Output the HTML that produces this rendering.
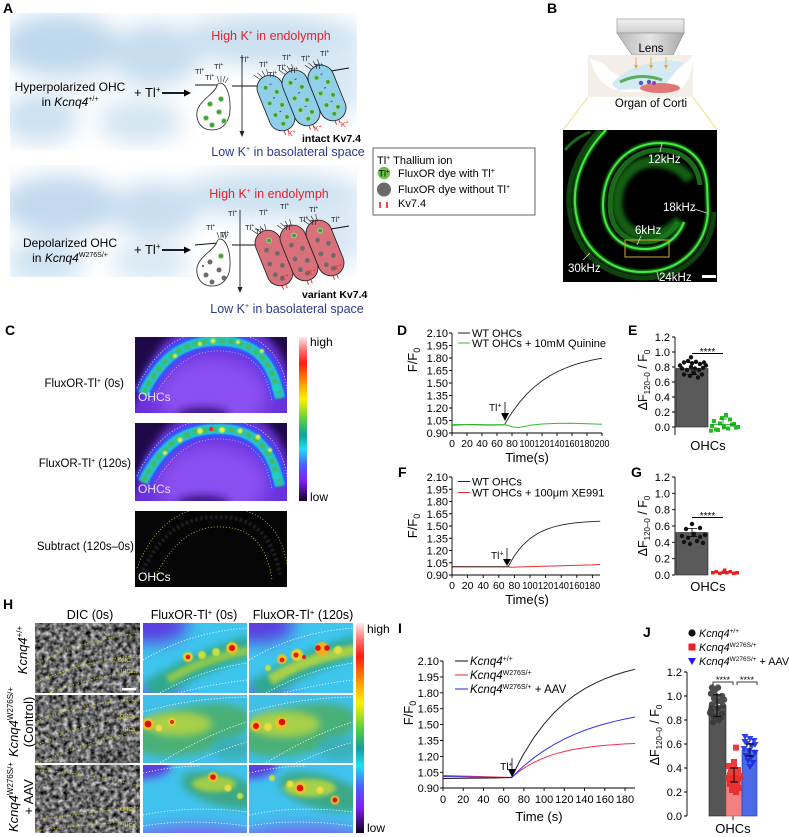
<!DOCTYPE html>
<html><head><meta charset="utf-8">
<style>
html,body{margin:0;padding:0;background:#fff;}
svg{display:block;}
text{font-family:"Liberation Sans",Arial,sans-serif;}
</style></head><body>
<svg width="789" height="837" viewBox="0 0 789 837" xmlns="http://www.w3.org/2000/svg">
<defs>
<filter id="b1" x="-50%" y="-50%" width="200%" height="200%"><feGaussianBlur stdDeviation="0.8"/></filter>
<filter id="b2" x="-50%" y="-50%" width="200%" height="200%"><feGaussianBlur stdDeviation="2"/></filter>
<filter id="b4" x="-50%" y="-50%" width="200%" height="200%"><feGaussianBlur stdDeviation="4"/></filter>
<filter id="b8" x="-50%" y="-50%" width="200%" height="200%"><feGaussianBlur stdDeviation="8"/></filter>
<filter id="b12" x="-50%" y="-50%" width="200%" height="200%"><feGaussianBlur stdDeviation="11"/></filter>
<filter id="noise" x="0" y="0" width="1" height="1" color-interpolation-filters="sRGB"><feTurbulence type="fractalNoise" baseFrequency="0.22" numOctaves="2" seed="4"/><feColorMatrix type="matrix" values="1.3 0 0 0 -0.23 1.3 0 0 0 -0.23 1.3 0 0 0 -0.23 0 0 0 0 1"/></filter>
<linearGradient id="cbar" x1="0" y1="0" x2="0" y2="1">
<stop offset="0" stop-color="#ffeaea"/><stop offset="0.08" stop-color="#ff7070"/><stop offset="0.16" stop-color="#ff1a10"/><stop offset="0.28" stop-color="#ff9a00"/><stop offset="0.38" stop-color="#fff000"/><stop offset="0.5" stop-color="#5ad040"/><stop offset="0.6" stop-color="#10a0a0"/><stop offset="0.68" stop-color="#20e0f0"/><stop offset="0.78" stop-color="#4a60ff"/><stop offset="0.88" stop-color="#8020f0"/><stop offset="1" stop-color="#100020"/>
</linearGradient>
<linearGradient id="lens1" x1="0" y1="0" x2="0" y2="1"><stop offset="0" stop-color="#f0f0f0"/><stop offset="1" stop-color="#cfcfcf"/></linearGradient>
<linearGradient id="lens2" x1="0" y1="0" x2="1" y2="0"><stop offset="0" stop-color="#b8b8b8"/><stop offset="0.5" stop-color="#e4e4e4"/><stop offset="1" stop-color="#a8a8a8"/></linearGradient>
<clipPath id="cA1"><rect x="10" y="13" width="347" height="137"/></clipPath>
<clipPath id="cA2"><rect x="10" y="165" width="347" height="112"/></clipPath>
<clipPath id="cB"><rect x="563" y="130" width="154" height="152"/></clipPath>
<clipPath id="cC1"><rect x="135" y="337" width="152" height="76"/></clipPath>
<clipPath id="cC2"><rect x="135" y="423" width="152" height="78"/></clipPath>
<clipPath id="cC3"><rect x="135" y="511" width="152" height="76"/></clipPath>
<clipPath id="h12"><rect x="143" y="623" width="104" height="70"/></clipPath>
<clipPath id="h13"><rect x="249" y="623" width="104" height="70"/></clipPath>
<clipPath id="h22"><rect x="143" y="695" width="104" height="68"/></clipPath>
<clipPath id="h23"><rect x="249" y="695" width="104" height="68"/></clipPath>
<clipPath id="h32"><rect x="143" y="765" width="104" height="68"/></clipPath>
<clipPath id="h33"><rect x="249" y="765" width="104" height="68"/></clipPath>

<g id="bcell">
<rect x="-13" y="-29" width="26" height="58" rx="13" fill="#8fcfe9" stroke="#1a1a1a" stroke-width="0.8"/>
<path d="M-6,-28 l-4,-6 M-3,-29 l-3,-6 M0,-29 l-1,-6 M3,-29 l1,-6" stroke="#222" stroke-width="0.6"/>
<g fill="#3f9f3a" stroke="#a8dc90" stroke-width="0.9">
<circle cx="-4" cy="-18" r="2.4"/><circle cx="5" cy="-10" r="2.4"/><circle cx="-6" cy="-2" r="2.4"/><circle cx="5" cy="4" r="2.4"/><circle cx="-5" cy="11" r="2.4"/><circle cx="5" cy="17" r="2.4"/><circle cx="-1" cy="22" r="2.4"/></g>
<g fill="#3a4a7a"><rect x="1" y="-20" width="2" height="1"/><rect x="-1" y="-6" width="2" height="1"/><rect x="0" y="9" width="2" height="1"/></g>
<path d="M-3,29 v4 M1,29 v4" stroke="#e02020" stroke-width="0.9"/>
</g>
<g id="rcell">
<rect x="-13" y="-29" width="26" height="58" rx="13" fill="#d8717b" stroke="#1a1a1a" stroke-width="0.8"/>
<path d="M-6,-28 l-4,-6 M-3,-29 l-3,-6 M0,-29 l-1,-6 M3,-29 l1,-6" stroke="#222" stroke-width="0.6"/>
<g fill="#6b6b6b"><circle cx="-4" cy="-10" r="2.4"/><circle cx="5" cy="-3" r="2.4"/><circle cx="-6" cy="4" r="2.4"/><circle cx="5" cy="10" r="2.4"/><circle cx="-5" cy="16" r="2.4"/><circle cx="0" cy="22" r="2.4"/></g>
<circle cx="2" cy="-18" r="2.4" fill="#3f9f3a" stroke="#a8dc90" stroke-width="0.9"/>
<path d="M-3,29 v4 M1,29 v4" stroke="#e02020" stroke-width="0.9"/>
</g>

<g id="cArc">
<rect x="130" y="330" width="165" height="90" fill="#1e0a48"/>
<path d="M128,420 L138,392 C158,330 190,322 215,322 C255,320 287,338 294,400 L294,420 Z" fill="#6a30dc" filter="url(#b4)"/>
<ellipse cx="213" cy="395" rx="55" ry="38" fill="#8a50f0" filter="url(#b8)"/>
<ellipse cx="203" cy="415" rx="26" ry="8" fill="#3c1688" filter="url(#b4)"/>
<path d="M143,394 C165,350 190,342 215,341 C245,340 270,350 280,398" fill="none" stroke="#3a50ff" stroke-width="18" filter="url(#b2)"/>
<path d="M143,394 C165,350 190,342 215,341 C245,340 270,350 280,398" fill="none" stroke="#1ec6d6" stroke-width="10" filter="url(#b1)"/>
<path d="M143,394 C165,350 190,342 215,341 C245,340 270,350 280,398" fill="none" stroke="#46b860" stroke-width="5" stroke-dasharray="6 3" filter="url(#b1)"/>
<path d="M137,388 C160,339 190,332 215,332 C252,331 283,345 288,396" fill="none" stroke="#e8d8a0" stroke-width="0.8" stroke-dasharray="1 2"/>
<path d="M152,402 C172,362 195,352 215,351 C245,350 266,362 272,402" fill="none" stroke="#f0a0e0" stroke-width="0.8" stroke-dasharray="1 2"/>
</g>
</defs>

<rect width="789" height="837" fill="#fff"/>

<!-- ============ PANEL A ============ -->
<text x="3" y="13" font-size="14" font-weight="bold">A</text>
<g clip-path="url(#cA1)">
<g filter="url(#b12)">
<ellipse cx="60" cy="45" rx="60" ry="32" fill="#bfd8ed"/>
<ellipse cx="155" cy="55" rx="45" ry="32" fill="#c6ddef"/>
<ellipse cx="40" cy="118" rx="38" ry="26" fill="#cce1f1"/>
<ellipse cx="140" cy="122" rx="42" ry="22" fill="#d3e5f2"/>
<ellipse cx="270" cy="40" rx="95" ry="26" fill="#cbe0f0"/>
<ellipse cx="335" cy="80" rx="30" ry="40" fill="#d8e8f4"/>
<ellipse cx="95" cy="85" rx="30" ry="14" fill="#f2f7fb"/>
</g>
</g>
<g clip-path="url(#cA2)">
<g filter="url(#b12)">
<ellipse cx="60" cy="205" rx="60" ry="30" fill="#c2d9ee"/>
<ellipse cx="155" cy="210" rx="45" ry="28" fill="#c9def0"/>
<ellipse cx="45" cy="262" rx="40" ry="22" fill="#cfe3f2"/>
<ellipse cx="150" cy="262" rx="40" ry="18" fill="#d6e7f3"/>
<ellipse cx="270" cy="195" rx="95" ry="24" fill="#cde2f1"/>
<ellipse cx="335" cy="235" rx="30" ry="35" fill="#dae8f4"/>
</g>
</g>

<!-- top row -->
<text x="70" y="91" font-size="12" text-anchor="middle">Hyperpolarized OHC</text>
<text x="70" y="106" font-size="12" text-anchor="middle">in <tspan font-style="italic">Kcnq4</tspan><tspan dy="-5" font-size="7">+/+</tspan></text>
<text x="134" y="97" font-size="13">+ Tl<tspan dy="-5" font-size="8">+</tspan></text>
<line x1="162" y1="93" x2="185" y2="93" stroke="#000" stroke-width="1.8"/>
<polygon points="184,89.5 191,93 184,96.5" fill="#000"/>
<text x="271" y="40" font-size="12.5" fill="#e62129" text-anchor="middle">High K<tspan dy="-5" font-size="7">+</tspan><tspan dy="5"> in endolymph</tspan></text>
<line x1="242" y1="55" x2="242" y2="132" stroke="#222" stroke-width="0.9"/>
<polygon points="239.5,131 244.5,131 242,137" fill="#222"/>
<path d="M195,85 L218,85 M232,86 L258,86 M325,72 L349,68" stroke="#111" stroke-width="1"/>
<path d="M220,83 C226,83 230,95 230,105 C231,120 224,130 212,130 C200,130 196,120 197,112 C198,102 212,95 216,88 C217,85 218,83 220,83 Z" fill="#fff" stroke="#222" stroke-width="0.8"/>
<path d="M219,82 l-2,-6 M221,82 l0,-6 M223,82 l2,-6 M225,83 l3,-5" stroke="#222" stroke-width="0.6"/>
<g fill="#3f9f3a" stroke="#a8dc90" stroke-width="0.9"><circle cx="210" cy="104" r="2.5"/><circle cx="221" cy="99" r="2.5"/><circle cx="206" cy="118" r="2.5"/><circle cx="219" cy="112" r="2.5"/><circle cx="212" cy="125" r="2.5"/><circle cx="224" cy="121" r="2.5"/></g>
<use href="#bcell" transform="translate(276,103) rotate(-22)"/>
<use href="#bcell" transform="translate(301,98) rotate(-22)"/>
<use href="#bcell" transform="translate(327,93) rotate(-22)"/>
<g font-size="7" fill="#e62129"><text x="288" y="136">K<tspan dy="-3" font-size="5">+</tspan></text><text x="314" y="131">K<tspan dy="-3" font-size="5">+</tspan></text><text x="341" y="127">K<tspan dy="-3" font-size="5">+</tspan></text></g>
<g font-size="7.5" fill="#222">
<text x="195" y="74">Tl<tspan dy="-3" font-size="5">+</tspan></text><text x="214" y="69">Tl<tspan dy="-3" font-size="5">+</tspan></text><text x="205" y="80">Tl<tspan dy="-3" font-size="5">+</tspan></text><text x="240" y="62">Tl<tspan dy="-3" font-size="5">+</tspan></text><text x="259" y="67">Tl<tspan dy="-3" font-size="5">+</tspan></text><text x="282" y="60">Tl<tspan dy="-3" font-size="5">+</tspan></text><text x="301" y="61">Tl<tspan dy="-3" font-size="5">+</tspan></text><text x="320" y="56">Tl<tspan dy="-3" font-size="5">+</tspan></text><text x="277" y="70">Tl<tspan dy="-3" font-size="5">+</tspan></text><text x="289" y="73">Tl<tspan dy="-3" font-size="5">+</tspan></text><text x="314" y="69">Tl<tspan dy="-3" font-size="5">+</tspan></text><text x="268" y="77">Tl<tspan dy="-3" font-size="5">+</tspan></text>
</g>
<text x="302" y="142" font-size="10.5" font-weight="bold">intact Kv7.4</text>
<text x="288" y="156" font-size="12.5" fill="#2b3990" text-anchor="middle">Low K<tspan dy="-5" font-size="7">+</tspan><tspan dy="5"> in basolateral space</tspan></text>

<!-- bottom row -->
<text x="70" y="247" font-size="12" text-anchor="middle">Depolarized OHC</text>
<text x="70" y="262" font-size="12" text-anchor="middle">in <tspan font-style="italic">Kcnq4</tspan><tspan dy="-5" font-size="7">W276S/+</tspan></text>
<text x="134" y="254" font-size="13">+ Tl<tspan dy="-5" font-size="8">+</tspan></text>
<line x1="162" y1="250" x2="185" y2="250" stroke="#000" stroke-width="1.8"/>
<polygon points="184,246.5 191,250 184,253.5" fill="#000"/>
<text x="269" y="198" font-size="12.5" fill="#e62129" text-anchor="middle">High K<tspan dy="-5" font-size="7">+</tspan><tspan dy="5"> in endolymph</tspan></text>
<line x1="240" y1="210" x2="240" y2="288" stroke="#222" stroke-width="0.9"/>
<polygon points="237.5,287 242.5,287 240,293" fill="#222"/>
<path d="M195,245 L218,243 M232,245 L258,245 M325,230 L349,226" stroke="#111" stroke-width="1"/>
<path d="M220,239 C226,239 230,251 230,261 C231,276 224,286 212,286 C200,286 196,276 197,268 C198,258 212,251 216,244 C217,241 218,239 220,239 Z" fill="#fff" stroke="#222" stroke-width="0.8"/>
<path d="M219,238 l-2,-6 M221,238 l0,-6 M223,238 l2,-6 M225,239 l3,-5" stroke="#222" stroke-width="0.6"/>
<g fill="#6b6b6b"><circle cx="210" cy="262" r="2.5"/><circle cx="206" cy="275" r="2.5"/><circle cx="219" cy="270" r="2.5"/><circle cx="212" cy="282" r="2.5"/><circle cx="224" cy="278" r="2.5"/><circle cx="203" cy="266" r="1.2"/></g>
<circle cx="221" cy="256" r="2.5" fill="#3f9f3a" stroke="#a8dc90" stroke-width="0.9"/>
<use href="#rcell" transform="translate(274,258) rotate(-22)"/>
<use href="#rcell" transform="translate(299,253) rotate(-22)"/>
<use href="#rcell" transform="translate(325,248) rotate(-22)"/>
<g font-size="7" fill="#e62129"><text x="281" y="280">K<tspan dy="-3" font-size="5">+</tspan></text><text x="308" y="275">K<tspan dy="-3" font-size="5">+</tspan></text><text x="334" y="270">K<tspan dy="-3" font-size="5">+</tspan></text></g>
<g font-size="7.5" fill="#222">
<text x="228" y="216">Tl<tspan dy="-3" font-size="5">+</tspan></text><text x="259" y="215">Tl<tspan dy="-3" font-size="5">+</tspan></text><text x="280" y="209">Tl<tspan dy="-3" font-size="5">+</tspan></text><text x="309" y="212">Tl<tspan dy="-3" font-size="5">+</tspan></text><text x="206" y="230">Tl<tspan dy="-3" font-size="5">+</tspan></text><text x="245" y="230">Tl<tspan dy="-3" font-size="5">+</tspan></text><text x="299" y="222">Tl<tspan dy="-3" font-size="5">+</tspan></text><text x="310" y="225">Tl<tspan dy="-3" font-size="5">+</tspan></text><text x="331" y="222">Tl<tspan dy="-3" font-size="5">+</tspan></text><text x="220" y="237">Tl<tspan dy="-3" font-size="5">+</tspan></text><text x="255" y="234">Tl<tspan dy="-3" font-size="5">+</tspan></text><text x="284" y="230">Tl<tspan dy="-3" font-size="5">+</tspan></text>
</g>
<text x="302" y="298" font-size="10.5" font-weight="bold">variant Kv7.4</text>
<text x="287" y="313" font-size="12.5" fill="#2b3990" text-anchor="middle">Low K<tspan dy="-5" font-size="7">+</tspan><tspan dy="5"> in basolateral space</tspan></text>

<!-- legend A -->
<rect x="373" y="148" width="162" height="67" fill="#fff" stroke="#555" stroke-width="0.9"/>
<text x="377" y="164" font-size="11">Tl<tspan dy="-4" font-size="7">+</tspan><tspan dy="4"> Thallium ion</tspan></text>
<circle cx="384" cy="173" r="6.2" fill="#6cc04a"/>
<text x="378.5" y="176.5" font-size="9">Tl<tspan dy="-3" font-size="6">+</tspan></text>
<text x="398" y="177" font-size="11">FluxOR dye with Tl<tspan dy="-4" font-size="7">+</tspan></text>
<circle cx="384" cy="189.5" r="7" fill="#6a6a6a"/>
<text x="398" y="193" font-size="11">FluxOR dye without Tl<tspan dy="-4" font-size="7">+</tspan></text>
<path d="M380,202 v6 M387,202 v6" stroke="#e02020" stroke-width="1.6"/>
<text x="398" y="207" font-size="11">Kv7.4</text>

<!-- ============ PANEL B ============ -->
<text x="547" y="13" font-size="14" font-weight="bold">B</text>
<rect x="617" y="19" width="67" height="14" fill="url(#lens1)" stroke="#9a9a9a" stroke-width="0.7"/>
<polygon points="617,33 684,33 673,55 632,55" fill="url(#lens2)" stroke="#9a9a9a" stroke-width="0.7"/>
<text x="651" y="52" font-size="11.5" text-anchor="middle">Lens</text>
<rect x="588" y="55" width="105" height="42" fill="#f4eee8"/>
<path d="M590,58 Q598,92 630,92 L675,92 Q690,86 693,60 L693,56 Q676,76 650,80 Q620,84 604,64 Z" fill="#fff"/>
<path d="M612,84 Q628,64 668,60 L684,62 Q672,76 662,88 L618,90 Z" fill="#d4eaf2"/>
<ellipse cx="660" cy="88" rx="20" ry="5" fill="#e07878"/>
<path d="M620,82 Q640,72 662,80" stroke="#5ab05a" stroke-width="3" fill="none"/>
<circle cx="641" cy="83" r="2.2" fill="#5555c0"/><circle cx="649" cy="82" r="2.2" fill="#5555c0"/><circle cx="654" cy="83" r="2" fill="#a040a0"/>
<g stroke="#f0a030" stroke-width="0.9"><line x1="636" y1="57" x2="636" y2="66"/><line x1="651" y1="57" x2="651" y2="66"/><line x1="666" y1="57" x2="666" y2="66"/></g>
<g fill="#f0a030"><polygon points="634,65 638,65 636,69"/><polygon points="649,65 653,65 651,69"/><polygon points="664,65 668,65 666,69"/></g>
<text x="651" y="107" font-size="11.5" text-anchor="middle">Organ of Corti</text>
<line x1="588" y1="97" x2="563" y2="130" stroke="#e8e070" stroke-width="0.9"/>
<line x1="693" y1="97" x2="717" y2="130" stroke="#e8e070" stroke-width="0.9"/>
<rect x="563" y="130" width="154" height="152" fill="#000"/>
<g clip-path="url(#cB)" fill="none">
<path d="M600,130 C580,150 567,178 569,205 C572,253 608,279 645,278 C686,277 713,248 714,212" stroke="#0e420e" stroke-width="5"/>
<path d="M690,180 C682,168 668,162 652,162 C630,163 617,182 617,203 C617,222 630,236 648,236 C662,236 672,229 680,220" stroke="#176a17" stroke-width="11" opacity="0.9" filter="url(#b2)"/>
<path d="M700,185 C698,165 684,150 660,150 C630,150 610,174 610,205 C610,228 624,242 645,242 C660,242 672,233 678,222" stroke="#1f7a1f" stroke-width="5" opacity="0.85"/>
<path d="M606,130 C586,150 573,178 575,205 C578,248 610,273 645,272 C682,271 706,245 708,212 L707,185 C705,160 688,143 660,143 C626,143 603,170 603,205 C603,232 620,249 645,249 C664,249 678,238 684,222" stroke="#1a9a1a" stroke-width="5" opacity="0.7" filter="url(#b1)"/>
<path d="M606,130 C586,150 573,178 575,205 C578,248 610,273 645,272 C682,271 706,245 708,212 L707,185 C705,160 688,143 660,143 C626,143 603,170 603,205 C603,232 620,249 645,249 C664,249 678,238 684,222" stroke="#45e845" stroke-width="2"/>
<path d="M565,150 Q575,138 590,132" stroke="#1a6a1a" stroke-width="3"/>
</g>
<rect x="625" y="240" width="44" height="17" fill="none" stroke="#b8a030" stroke-width="1.1"/>
<g stroke="#ddd" stroke-width="0.8"><line x1="662" y1="143" x2="660" y2="152"/><line x1="694" y1="209" x2="707" y2="213"/><line x1="641" y1="236" x2="637" y2="245"/><line x1="583" y1="260" x2="590" y2="253"/><line x1="657" y1="272" x2="659" y2="280"/></g>
<g fill="#fff" font-size="11.5"><text x="648" y="163">12kHz</text><text x="663" y="211">18kHz</text><text x="635" y="234">6kHz</text><text x="568" y="272">30kHz</text><text x="659" y="281">24kHz</text></g>
<rect x="702" y="275" width="14" height="3" fill="#fff"/>

<!-- ============ PANEL C ============ -->
<text x="5" y="335" font-size="14" font-weight="bold">C</text>
<text x="124" y="387" font-size="11.5" text-anchor="end">FluxOR-Tl<tspan dy="-4" font-size="7">+</tspan><tspan dy="4"> (0s)</tspan></text>
<text x="131" y="467" font-size="11.5" text-anchor="end">FluxOR-Tl<tspan dy="-4" font-size="7">+</tspan><tspan dy="4"> (120s)</tspan></text>
<text x="134" y="550" font-size="11.5" text-anchor="end">Subtract (120s–0s)</text>
<g clip-path="url(#cC1)">
<use href="#cArc"/>
<g fill="#e0f040" filter="url(#b1)"><circle cx="213" cy="341" r="2.5"/><circle cx="238" cy="342" r="2"/><circle cx="175" cy="356" r="2"/><circle cx="262" cy="351" r="2"/><circle cx="200" cy="344" r="2"/></g>
<circle cx="276" cy="388" r="4" fill="#20d0c0" filter="url(#b1)"/>
</g>
<g clip-path="url(#cC2)">
<g transform="translate(0,88)"><use href="#cArc"/>
<g fill="#e8f040" filter="url(#b1)"><circle cx="200" cy="343" r="3"/><circle cx="222" cy="342" r="3"/><circle cx="240" cy="343" r="2.5"/><circle cx="258" cy="349" r="2.5"/><circle cx="180" cy="352" r="2.5"/><circle cx="165" cy="365" r="2"/><circle cx="270" cy="362" r="2"/></g>
<circle cx="211" cy="341" r="2.2" fill="#ff2020"/>
<circle cx="276" cy="388" r="4" fill="#20d0c0" filter="url(#b1)"/>
</g>
</g>
<g clip-path="url(#cC3)">
<rect x="135" y="511" width="152" height="76" fill="#050505"/>
<g transform="translate(0,176)">
<path d="M143,394 C165,350 190,342 215,341 C245,340 270,350 280,398" fill="none" stroke="#6a6a6a" stroke-width="4" stroke-dasharray="2 3" opacity="0.35" filter="url(#b1)"/>
<path d="M137,392 C158,339 190,332 215,331 C252,330 283,345 288,396" fill="none" stroke="#c8c830" stroke-width="0.8" stroke-dasharray="1 2"/>
<path d="M154,404 C172,364 195,352 215,351 C245,350 266,362 272,404" fill="none" stroke="#c8c830" stroke-width="0.8" stroke-dasharray="1 2"/>
</g>
</g>
<text x="138" y="401" font-size="12" fill="#eadcff">OHCs</text>
<text x="138" y="493" font-size="12" fill="#eadcff">OHCs</text>
<text x="138" y="581" font-size="12" fill="#fff">OHCs</text>
<rect x="299" y="337" width="8" height="164" fill="url(#cbar)"/>
<text x="310" y="346" font-size="12">high</text>
<text x="310" y="501" font-size="12">low</text>

<!-- ============ PANEL D ============ -->
<text x="397" y="335" font-size="14" font-weight="bold">D</text>
<g stroke="#000" stroke-width="0.9" fill="none">
<path d="M452,333 V433 H602"/>
<path d="M449,333H452 M449,345.5H452 M449,358H452 M449,370.5H452 M449,383H452 M449,395.5H452 M449,408H452 M449,420.5H452 M449,433H452"/>
<path d="M452,433v3 M467,433v3 M482,433v3 M497,433v3 M512,433v3 M527,433v3 M542,433v3 M557,433v3 M572,433v3 M587,433v3 M602,433v3"/>
</g>
<g font-size="11" text-anchor="end">
<text x="448" y="337">2.10</text><text x="448" y="349.5">1.95</text><text x="448" y="362">1.80</text><text x="448" y="374.5">1.65</text><text x="448" y="387">1.50</text><text x="448" y="399.5">1.35</text><text x="448" y="412">1.20</text><text x="448" y="424.5">1.05</text><text x="448" y="437">0.90</text>
</g>
<g font-size="10.5" text-anchor="middle">
<text x="452" y="447">0</text><text x="467" y="447">20</text><text x="482" y="447">40</text><text x="497" y="447">60</text><text x="512" y="447">80</text>
<text x="527" y="447" textLength="15" lengthAdjust="spacingAndGlyphs">100</text><text x="542" y="447" textLength="15" lengthAdjust="spacingAndGlyphs">120</text><text x="557" y="447" textLength="15" lengthAdjust="spacingAndGlyphs">140</text><text x="572" y="447" textLength="15" lengthAdjust="spacingAndGlyphs">160</text><text x="587" y="447" textLength="15" lengthAdjust="spacingAndGlyphs">180</text><text x="602" y="447" textLength="15" lengthAdjust="spacingAndGlyphs">200</text>
</g>
<text x="527" y="462" font-size="13" text-anchor="middle">Time(s)</text>
<text transform="translate(417,360) rotate(-90)" font-size="13" text-anchor="middle">F/F<tspan dy="3" font-size="9">0</tspan></text>
<polyline fill="none" stroke="#222" stroke-width="0.9" points="452,425 470,424.5 490,425 504.5,424.7 508.25,418.3 512,412.5 519.5,402.3 527,393.8 534.5,386.8 542,380.9 549.5,376 557,371.9 564.5,368.5 572,365.6 579.5,363.2 587,361.3 594.5,359.6 602,358.2"/>
<polyline fill="none" stroke="#2fc02f" stroke-width="1" points="452,424.5 470,424.6 490,424.8 504.5,424.6 508.25,425.5 512,426.75 518,427.6 523.25,426.75 530.75,425.1 542,424 557,423.4 572,423.2 587,423.7 602,424.25"/>
<text x="489" y="411" font-size="10">Tl<tspan dy="-3.5" font-size="7">+</tspan></text>
<line x1="505" y1="402" x2="505" y2="414" stroke="#000" stroke-width="0.8"/>
<polygon points="501,413 509,413 505,421" fill="#000"/>
<line x1="458" y1="333" x2="470" y2="333" stroke="#222" stroke-width="1"/>
<text x="472" y="337" font-size="11">WT OHCs</text>
<line x1="458" y1="343" x2="470" y2="343" stroke="#2fc02f" stroke-width="1"/>
<text x="472" y="347" font-size="11">WT OHCs + 10mM Quinine</text>

<!-- ============ PANEL E ============ -->
<text x="628" y="335" font-size="14" font-weight="bold">E</text>
<g stroke="#000" stroke-width="0.9" fill="none">
<path d="M675,337 V435"/>
<path d="M672,337H675 M672,352H675 M672,367H675 M672,382H675 M672,397H675 M672,412H675 M672,427H675"/>
</g>
<g font-size="11" text-anchor="end"><text x="670" y="341">1.2</text><text x="670" y="356">1.0</text><text x="670" y="371">0.8</text><text x="670" y="386">0.6</text><text x="670" y="401">0.4</text><text x="670" y="416">0.2</text><text x="670" y="431">0.0</text></g>
<rect x="676" y="368.5" width="32" height="58.5" fill="#5a5a5a" stroke="#222" stroke-width="0.6"/>
<g fill="#111">
<circle cx="680" cy="365.5" r="2.2"/><circle cx="684" cy="362.5" r="2.2"/><circle cx="688" cy="361" r="2.2"/><circle cx="692" cy="363.3" r="2.2"/><circle cx="696" cy="361.8" r="2.2"/><circle cx="700" cy="364" r="2.2"/><circle cx="704" cy="362.5" r="2.2"/><circle cx="682" cy="368.5" r="2.2"/><circle cx="687" cy="370" r="2.2"/><circle cx="691" cy="367" r="2.2"/><circle cx="695" cy="368.5" r="2.2"/><circle cx="699" cy="370" r="2.2"/><circle cx="703" cy="367.8" r="2.2"/><circle cx="684" cy="374.5" r="2.2"/><circle cx="690" cy="376" r="2.2"/><circle cx="694" cy="373" r="2.2"/><circle cx="698" cy="377.5" r="2.2"/><circle cx="702" cy="374.5" r="2.2"/><circle cx="691" cy="357.3" r="2.2"/><circle cx="706" cy="365.5" r="2.2"/>
</g>
<path d="M692,362.5 V374.5 M687,362.5 H697 M687,374.5 H697" stroke="#000" stroke-width="0.8"/>
<g fill="#22bb22">
<rect x="710" y="424" width="4" height="4"/><rect x="714" y="427.5" width="4" height="4"/><rect x="718" y="421.5" width="4" height="4"/><rect x="722" y="425" width="4" height="4"/><rect x="726" y="426.5" width="4" height="4"/><rect x="730" y="422.7" width="4" height="4"/><rect x="734" y="425.7" width="4" height="4"/><rect x="712" y="419" width="4" height="4"/><rect x="720" y="416" width="4" height="4"/><rect x="724" y="413.7" width="4" height="4"/><rect x="728" y="417.5" width="4" height="4"/><rect x="732" y="422" width="4" height="4"/><rect x="716" y="428" width="4" height="4"/><rect x="724" y="413" width="4" height="4"/><rect x="736" y="425" width="4" height="4"/><rect x="709" y="428.7" width="4" height="4"/>
</g>
<path d="M712,424.7 H735 M723,419 V430 M719,419 H727" stroke="#119911" stroke-width="0.8"/>
<line x1="692" y1="353.5" x2="723" y2="353.5" stroke="#000" stroke-width="0.9"/>
<text x="707.5" y="355" font-size="10" text-anchor="middle">****</text>
<text x="708" y="450" font-size="13" text-anchor="middle">OHCs</text>
<text transform="translate(647,380) rotate(-90)" font-size="12.5" text-anchor="middle">ΔF<tspan dy="3" font-size="8">120–0</tspan><tspan dy="-3"> / F</tspan><tspan dy="3" font-size="8">0</tspan></text>

<!-- ============ PANEL F ============ -->
<text x="398" y="477" font-size="14" font-weight="bold">F</text>
<g stroke="#000" stroke-width="0.9" fill="none">
<path d="M452,477 V575 H600"/>
<path d="M449,477H452 M449,489.25H452 M449,501.5H452 M449,513.75H452 M449,526H452 M449,538.25H452 M449,550.5H452 M449,562.75H452 M449,575H452"/>
<path d="M452,575v3 M467.6,575v3 M483.2,575v3 M498.8,575v3 M514.4,575v3 M530,575v3 M545.6,575v3 M561.2,575v3 M576.8,575v3 M592.4,575v3"/>
</g>
<g font-size="11" text-anchor="end">
<text x="448" y="481">2.10</text><text x="448" y="493.25">1.95</text><text x="448" y="505.5">1.80</text><text x="448" y="517.75">1.65</text><text x="448" y="530">1.50</text><text x="448" y="542.25">1.35</text><text x="448" y="554.5">1.20</text><text x="448" y="566.75">1.05</text><text x="448" y="579">0.90</text>
</g>
<g font-size="10.5" text-anchor="middle">
<text x="452" y="589">0</text><text x="467.6" y="589">20</text><text x="483.2" y="589">40</text><text x="498.8" y="589">60</text><text x="514.4" y="589">80</text>
<text x="530" y="589" textLength="15.5" lengthAdjust="spacingAndGlyphs">100</text><text x="545.6" y="589" textLength="15.5" lengthAdjust="spacingAndGlyphs">120</text><text x="561.2" y="589" textLength="15.5" lengthAdjust="spacingAndGlyphs">140</text><text x="576.8" y="589" textLength="15.5" lengthAdjust="spacingAndGlyphs">160</text><text x="592.4" y="589" textLength="15.5" lengthAdjust="spacingAndGlyphs">180</text>
</g>
<text x="527" y="604" font-size="13" text-anchor="middle">Time(s)</text>
<text transform="translate(417,526) rotate(-90)" font-size="13" text-anchor="middle">F/F<tspan dy="3" font-size="9">0</tspan></text>
<polyline fill="none" stroke="#e83030" stroke-width="1" points="452,566.6 480,566.7 508.2,566.8 511,567.2 530,566.6 561.2,565.8 592.4,564.9 600,564.4"/>
<polyline fill="none" stroke="#222" stroke-width="0.9" points="452,566.8 480,566.8 508.2,566.8 511.3,561 514.4,555.9 518.3,550.5 522.2,545.8 530,538.6 537.8,533.4 545.6,529.7 553.4,527 561.2,525.1 569,523.7 576.8,522.7 584.6,522.05 592.4,521.55 600.2,521.2"/>
<text x="491" y="559" font-size="10">Tl<tspan dy="-3.5" font-size="7">+</tspan></text>
<line x1="507" y1="548" x2="507" y2="560" stroke="#000" stroke-width="0.8"/>
<polygon points="503,559 511,559 507,566" fill="#000"/>
<line x1="458" y1="481.5" x2="470" y2="481.5" stroke="#222" stroke-width="1"/>
<text x="472" y="485.5" font-size="11">WT OHCs</text>
<line x1="458" y1="492.5" x2="470" y2="492.5" stroke="#e83030" stroke-width="1"/>
<text x="472" y="496.5" font-size="11">WT OHCs + 100μm XE991</text>

<!-- ============ PANEL G ============ -->
<text x="631" y="477" font-size="14" font-weight="bold">G</text>
<g stroke="#000" stroke-width="0.9" fill="none">
<path d="M675,477 V575"/>
<path d="M672,477H675 M672,493.3H675 M672,509.7H675 M672,526H675 M672,542.3H675 M672,558.7H675 M672,575H675"/>
</g>
<g font-size="11" text-anchor="end"><text x="670" y="481">1.2</text><text x="670" y="497.3">1.0</text><text x="670" y="513.7">0.8</text><text x="670" y="530">0.6</text><text x="670" y="546.3">0.4</text><text x="670" y="562.7">0.2</text><text x="670" y="579">0.0</text></g>
<rect x="676" y="532.5" width="32" height="42.5" fill="#5a5a5a" stroke="#222" stroke-width="0.6"/>
<g fill="#111">
<circle cx="682" cy="536" r="2.2"/><circle cx="688" cy="538" r="2.2"/><circle cx="694" cy="534" r="2.2"/><circle cx="700" cy="537" r="2.2"/><circle cx="705" cy="535" r="2.2"/><circle cx="684" cy="542" r="2.2"/><circle cx="690" cy="544" r="2.2"/><circle cx="697" cy="541" r="2.2"/><circle cx="703" cy="543" r="2.2"/><circle cx="692" cy="524" r="2.2"/><circle cx="686" cy="529" r="2.2"/><circle cx="700" cy="528" r="2.2"/>
</g>
<path d="M692,528.4 V536.6 M687,528.4 H697 M687,536.6 H697" stroke="#000" stroke-width="0.8"/>
<g fill="#e82020">
<rect x="711" y="571" width="3.5" height="3.5"/><rect x="714.5" y="570" width="3.5" height="3.5"/><rect x="718" y="571.5" width="3.5" height="3.5"/><rect x="721.5" y="570.5" width="3.5" height="3.5"/><rect x="725" y="571" width="3.5" height="3.5"/><rect x="728.5" y="570" width="3.5" height="3.5"/><rect x="732" y="571.5" width="3.5" height="3.5"/><rect x="735.5" y="571" width="3.5" height="3.5"/><rect x="723" y="568.5" width="3.5" height="3.5"/>
</g>
<line x1="692" y1="517.5" x2="723" y2="517.5" stroke="#000" stroke-width="0.9"/>
<text x="707.5" y="519" font-size="10" text-anchor="middle">****</text>
<text x="708" y="591" font-size="13" text-anchor="middle">OHCs</text>
<text transform="translate(647,526) rotate(-90)" font-size="12.5" text-anchor="middle">ΔF<tspan dy="3" font-size="8">120–0</tspan><tspan dy="-3"> / F</tspan><tspan dy="3" font-size="8">0</tspan></text>

<!-- ============ PANEL H ============ -->
<text x="3" y="609" font-size="14" font-weight="bold">H</text>
<text x="90" y="619" font-size="12.5" text-anchor="middle">DIC (0s)</text>
<text x="194" y="619" font-size="12.5" text-anchor="middle">FluxOR-Tl<tspan dy="-4" font-size="8">+</tspan><tspan dy="4"> (0s)</tspan></text>
<text x="303" y="619" font-size="12.5" text-anchor="middle">FluxOR-Tl<tspan dy="-4" font-size="8">+</tspan><tspan dy="4">  (120s)</tspan></text>
<text transform="translate(27,650) rotate(-90)" font-size="13" text-anchor="middle" font-style="italic">Kcnq4<tspan dy="-5" font-size="8" font-style="normal">+/+</tspan></text>
<text transform="translate(18,722) rotate(-90)" font-size="13" text-anchor="middle" font-style="italic">Kcnq4<tspan dy="-5" font-size="8" font-style="normal">W276S/+</tspan></text>
<text transform="translate(33,722) rotate(-90)" font-size="13" text-anchor="middle">(Control)</text>
<text transform="translate(18,797) rotate(-90)" font-size="13" text-anchor="middle" font-style="italic">Kcnq4<tspan dy="-5" font-size="8" font-style="normal">W276S/+</tspan></text>
<text transform="translate(33,797) rotate(-90)" font-size="13" text-anchor="middle">+ AAV</text>

<!-- DIC -->
<rect x="35" y="623" width="105" height="70" fill="#6e6e6e" filter="url(#noise)"/>
<rect x="35" y="695" width="105" height="68" fill="#6e6e6e" filter="url(#noise)"/>
<rect x="35" y="765" width="105" height="68" fill="#6e6e6e" filter="url(#noise)"/>
<rect x="110" y="623" width="30" height="20" fill="#000" opacity="0.15"/>
<ellipse cx="110" cy="760" rx="20" ry="8" fill="#000" opacity="0.2" filter="url(#b4)"/>
<g fill="none" stroke="#d8d020" stroke-width="0.8" stroke-dasharray="1.2 1.5">
<path d="M35,665 Q80,640 140,633"/><path d="M35,683 Q85,660 140,655"/><path d="M50,693 Q95,675 140,672"/>
<path d="M35,722 Q80,702 140,700"/><path d="M35,746 Q90,720 140,716"/><path d="M40,763 Q95,738 140,732"/>
<path d="M35,770 Q80,772 140,786"/><path d="M35,820 Q90,812 140,807"/><path d="M35,831 Q90,824 140,821"/>
</g>
<g fill="#e8e040" font-size="5.5"><text x="118" y="662">OHCs</text><text x="121" y="673">IHCs</text><text x="120" y="718">OHCs</text><text x="123" y="731">IHCs</text><text x="120" y="811">OHCs</text><text x="123" y="827">IHCs</text></g>
<rect x="122" y="688" width="14" height="2.5" fill="#fff"/>

<!-- Flux row1 col2 -->
<g clip-path="url(#h12)">
<rect x="143" y="623" width="104" height="70" fill="#3ec5ee"/>
<ellipse cx="150" cy="625" rx="38" ry="18" fill="#5a3ee0" filter="url(#b8)"/>
<ellipse cx="150" cy="702" rx="40" ry="14" fill="#6c5cf0" filter="url(#b8)"/>
<path d="M150,692 Q195,662 252,646" fill="none" stroke="#2fa890" stroke-width="22" filter="url(#b4)"/>
<path d="M168,680 Q200,660 250,650" fill="none" stroke="#8cc850" stroke-width="9" filter="url(#b2)"/>
<g filter="url(#b1)"><circle cx="188" cy="657" r="5" fill="#f0d020"/><circle cx="232" cy="648" r="6" fill="#f0c020"/><circle cx="202" cy="655" r="4" fill="#c8e040"/><circle cx="216" cy="652" r="4" fill="#c8e040"/></g>
<circle cx="188" cy="657" r="2.4" fill="#e02020"/><circle cx="232" cy="648" r="3" fill="#e01010"/>
<g fill="none" stroke="#fff" stroke-width="0.8" stroke-dasharray="1.2 1.8"><path d="M143,660 Q190,632 247,628"/><path d="M160,693 Q200,670 247,663"/><path d="M178,693 Q212,684 247,680"/></g>
</g>
<!-- Flux row1 col3 -->
<g clip-path="url(#h13)">
<rect x="249" y="623" width="104" height="70" fill="#3ec5ee"/>
<ellipse cx="256" cy="625" rx="38" ry="18" fill="#5a3ee0" filter="url(#b8)"/>
<ellipse cx="256" cy="702" rx="40" ry="14" fill="#6c5cf0" filter="url(#b8)"/>
<path d="M256,692 Q301,662 358,646" fill="none" stroke="#2fa890" stroke-width="22" filter="url(#b4)"/>
<path d="M270,680 Q306,658 356,650" fill="none" stroke="#a8d048" stroke-width="11" filter="url(#b2)"/>
<g filter="url(#b1)"><circle cx="282" cy="659" r="5" fill="#f0c020"/><circle cx="297" cy="655" r="6" fill="#f0d020"/><circle cx="322" cy="649" r="7" fill="#f0b020"/><circle cx="338" cy="650" r="4" fill="#e0e040"/><circle cx="268" cy="668" r="3" fill="#c8e040"/></g>
<circle cx="282" cy="660" r="2.4" fill="#e02020"/><circle cx="296" cy="655" r="2.6" fill="#e02020"/><circle cx="304" cy="657" r="2" fill="#e02020"/><circle cx="318" cy="648" r="2.8" fill="#e01010"/><circle cx="327" cy="648" r="2.8" fill="#e01010"/>
<g fill="none" stroke="#fff" stroke-width="0.8" stroke-dasharray="1.2 1.8"><path d="M249,660 Q296,632 353,628"/><path d="M266,693 Q306,670 353,663"/><path d="M284,693 Q318,684 353,680"/></g>
</g>
<!-- Flux row2 col2 -->
<g clip-path="url(#h22)">
<rect x="143" y="695" width="104" height="68" fill="#40bfe8"/>
<ellipse cx="192" cy="730" rx="60" ry="24" fill="#48b078" transform="rotate(-12 192 730)" filter="url(#b4)"/>
<ellipse cx="178" cy="724" rx="34" ry="12" fill="#a8d048" filter="url(#b4)"/>
<ellipse cx="232" cy="748" rx="20" ry="12" fill="#3ab0b8" filter="url(#b4)"/>
<g filter="url(#b1)"><circle cx="148" cy="724" r="6" fill="#f0c020"/><circle cx="172" cy="722" r="4" fill="#f0d020"/><circle cx="159" cy="728" r="3.5" fill="#e8e040"/></g>
<circle cx="148" cy="724" r="3.4" fill="#e01010"/><circle cx="172" cy="722" r="2" fill="#e02020"/>
<g fill="none" stroke="#fff" stroke-width="0.8" stroke-dasharray="1.2 1.8"><path d="M143,712 Q190,698 247,697"/><path d="M160,763 Q205,735 247,722"/><path d="M190,763 Q220,750 247,742"/></g>
</g>
<!-- Flux row2 col3 -->
<g clip-path="url(#h23)">
<rect x="249" y="695" width="104" height="68" fill="#40bfe8"/>
<ellipse cx="298" cy="730" rx="60" ry="24" fill="#48b078" transform="rotate(-12 298 730)" filter="url(#b4)"/>
<ellipse cx="284" cy="724" rx="36" ry="13" fill="#a8d048" filter="url(#b4)"/>
<ellipse cx="338" cy="748" rx="20" ry="12" fill="#3ab0b8" filter="url(#b4)"/>
<g filter="url(#b1)"><circle cx="256" cy="726" r="5.5" fill="#f0c020"/><circle cx="281" cy="723" r="6" fill="#f0c020"/><circle cx="268" cy="727" r="4" fill="#e8e040"/></g>
<circle cx="256" cy="726" r="3" fill="#e01010"/><circle cx="282" cy="722" r="3.3" fill="#e01010"/>
<g fill="none" stroke="#fff" stroke-width="0.8" stroke-dasharray="1.2 1.8"><path d="M249,712 Q296,698 353,697"/><path d="M266,763 Q311,735 353,722"/><path d="M296,763 Q326,750 353,742"/></g>
</g>
<!-- Flux row3 col2 -->
<g clip-path="url(#h32)">
<rect x="143" y="765" width="104" height="68" fill="#40c2ee"/>
<ellipse cx="143" cy="765" rx="28" ry="14" fill="#5a40e0" filter="url(#b4)"/>
<ellipse cx="195" cy="842" rx="70" ry="16" fill="#7860f0" filter="url(#b8)"/>
<ellipse cx="222" cy="790" rx="42" ry="16" fill="#3aa888" transform="rotate(15 222 790)" filter="url(#b4)"/>
<ellipse cx="214" cy="784" rx="22" ry="8" fill="#a0cc48" filter="url(#b2)"/>
<g filter="url(#b1)"><circle cx="213" cy="777" r="5" fill="#f0c020"/><circle cx="228" cy="788" r="3.5" fill="#e8e040"/><circle cx="240" cy="796" r="3" fill="#c8e040"/></g>
<circle cx="213" cy="777" r="2.8" fill="#e01010"/>
<g fill="none" stroke="#fff" stroke-width="0.8" stroke-dasharray="1.2 1.8"><path d="M143,773 Q175,766 200,766"/><path d="M143,815 Q190,805 247,812"/><path d="M143,826 Q190,818 247,826"/></g>
</g>
<!-- Flux row3 col3 -->
<g clip-path="url(#h33)">
<rect x="249" y="765" width="104" height="68" fill="#40c2ee"/>
<ellipse cx="249" cy="765" rx="28" ry="14" fill="#5a40e0" filter="url(#b4)"/>
<ellipse cx="301" cy="842" rx="70" ry="16" fill="#7860f0" filter="url(#b8)"/>
<ellipse cx="322" cy="792" rx="45" ry="17" fill="#3aa888" transform="rotate(15 322 792)" filter="url(#b4)"/>
<ellipse cx="310" cy="788" rx="26" ry="9" fill="#a8d048" filter="url(#b2)"/>
<g filter="url(#b1)"><circle cx="300" cy="788" r="6" fill="#f0c020"/><circle cx="290" cy="784" r="3.5" fill="#e8e040"/><circle cx="335" cy="800" r="4.5" fill="#f0c020"/><circle cx="320" cy="790" r="3.5" fill="#e8e040"/><circle cx="272" cy="778" r="3" fill="#c8e040"/></g>
<circle cx="300" cy="788" r="3.3" fill="#e01010"/><circle cx="335" cy="800" r="2.5" fill="#e01010"/>
<g fill="none" stroke="#fff" stroke-width="0.8" stroke-dasharray="1.2 1.8"><path d="M249,773 Q281,766 306,766"/><path d="M249,815 Q296,805 353,812"/><path d="M249,826 Q296,818 353,826"/></g>
</g>
<rect x="356" y="623" width="8" height="210" fill="url(#cbar)"/>
<text x="367" y="633" font-size="12">high</text>
<text x="367" y="832" font-size="12">low</text>

<!-- ============ PANEL I ============ -->
<text x="398" y="633" font-size="14" font-weight="bold">I</text>
<g stroke="#000" stroke-width="0.9" fill="none">
<path d="M443,661 V788 H635"/>
<path d="M440,661H443 M440,676.9H443 M440,692.8H443 M440,708.7H443 M440,724.6H443 M440,740.5H443 M440,756.4H443 M440,772.3H443 M440,788H443"/>
<path d="M443,788v3 M463.2,788v3 M483.4,788v3 M503.7,788v3 M523.9,788v3 M544.1,788v3 M564.3,788v3 M584.5,788v3 M604.8,788v3 M625,788v3"/>
</g>
<g font-size="11" text-anchor="end">
<text x="439" y="665">2.10</text><text x="439" y="680.9">1.95</text><text x="439" y="696.8">1.80</text><text x="439" y="712.7">1.65</text><text x="439" y="728.6">1.50</text><text x="439" y="744.5">1.35</text><text x="439" y="760.4">1.20</text><text x="439" y="776.3">1.05</text><text x="439" y="792">0.90</text>
</g>
<g font-size="11" text-anchor="middle">
<text x="443" y="803">0</text><text x="463.2" y="803">20</text><text x="483.4" y="803">40</text><text x="503.7" y="803">60</text><text x="523.9" y="803">80</text><text x="544.1" y="803">100</text><text x="564.3" y="803">120</text><text x="584.5" y="803">140</text><text x="604.8" y="803">160</text><text x="625" y="803">180</text>
</g>
<text x="539" y="821" font-size="13" text-anchor="middle">Time (s)</text>
<text transform="translate(413,713) rotate(-90)" font-size="13" text-anchor="middle">F/F<tspan dy="3" font-size="9">0</tspan></text>
<polyline fill="none" stroke="#ee3344" stroke-width="1" points="443,775.5 470,776.3 495,777 511.7,777.4 518.8,771.7 523.9,768.2 534,762.3 544.1,757.8 554.2,754.2 564.3,751.5 574.4,749.3 584.5,747.7 594.7,746.4 604.8,745.4 614.9,744.6 625,743.9 635.1,743.5"/>
<polyline fill="none" stroke="#3333ee" stroke-width="1" points="443,776.5 470,777 495,777.5 511.7,777.6 518.8,770.4 523.9,765.9 534,757.7 544.1,750.6 554.2,744.4 564.3,739.1 574.4,734.4 584.5,730.4 594.7,726.9 604.8,723.9 614.9,721.3 625,719 635.1,717"/>
<polyline fill="none" stroke="#222" stroke-width="1" points="443,778.5 470,778.3 495,778 511.7,777.4 518.8,762.9 523.9,753.6 534,737.4 544.1,723.9 554.2,712.6 564.3,703.2 574.4,695.3 584.5,688.8 594.7,683.4 604.8,678.8 614.9,675 625,671.9 635.1,669.2"/>
<text x="500" y="770" font-size="10.5">Tl<tspan dy="-3.5" font-size="7">+</tspan></text>
<line x1="512" y1="758" x2="512" y2="770" stroke="#000" stroke-width="0.8"/>
<polygon points="508,769 516,769 512,777" fill="#000"/>
<line x1="455" y1="661" x2="468" y2="661" stroke="#222" stroke-width="1.1"/>
<text x="470" y="665" font-size="11.5" font-style="italic">Kcnq4<tspan dy="-4" font-size="7" font-style="normal">+/+</tspan></text>
<line x1="455" y1="675" x2="468" y2="675" stroke="#ee3344" stroke-width="1.1"/>
<text x="470" y="679" font-size="11.5" font-style="italic">Kcnq4<tspan dy="-4" font-size="7" font-style="normal">W276S/+</tspan></text>
<line x1="455" y1="689" x2="468" y2="689" stroke="#3333ee" stroke-width="1.1"/>
<text x="470" y="693" font-size="11.5" font-style="italic">Kcnq4<tspan dy="-4" font-size="7" font-style="normal">W276S/+</tspan><tspan dy="4" font-style="normal"> + AAV</tspan></text>

<!-- ============ PANEL J ============ -->
<text x="643" y="637" font-size="14" font-weight="bold">J</text>
<circle cx="692" cy="633" r="3.6" fill="#111"/>
<text x="699" y="637" font-size="10.8" font-style="italic">Kcnq4<tspan dy="-4" font-size="6.5" font-style="normal">+/+</tspan></text>
<rect x="688.5" y="643.5" width="7" height="7" fill="#ee1c25"/>
<text x="699" y="651" font-size="10.8" font-style="italic">Kcnq4<tspan dy="-4" font-size="6.5" font-style="normal">W276S/+</tspan></text>
<polygon points="688,658 696,658 692,665" fill="#1a1aff"/>
<text x="699" y="665" font-size="10.8" font-style="italic">Kcnq4<tspan dy="-4" font-size="6.5" font-style="normal">W276S/+</tspan><tspan dy="4" font-style="normal"> + AAV</tspan></text>
<g stroke="#000" stroke-width="0.9" fill="none">
<path d="M687,672 V816"/>
<path d="M684,672H687 M684,696H687 M684,720H687 M684,744H687 M684,768H687 M684,792H687 M684,816H687"/>
<path d="M733,816v4"/>
</g>
<g font-size="11" text-anchor="end"><text x="682" y="676">1.2</text><text x="682" y="700">1.0</text><text x="682" y="724">0.8</text><text x="682" y="748">0.6</text><text x="682" y="772">0.4</text><text x="682" y="796">0.2</text><text x="682" y="820">0.0</text></g>
<rect x="709" y="706" width="17" height="110" fill="#555" stroke="#222" stroke-width="0.6"/>
<rect x="726" y="776" width="16" height="40" fill="#f28080" stroke="#c44" stroke-width="0.6"/>
<rect x="742" y="750" width="15" height="66" fill="#4a6ae8" stroke="#2233aa" stroke-width="0.6"/>
<g fill="#3a3a3a" opacity="0.9">
<circle cx="712" cy="687.6" r="3.2"/><circle cx="718" cy="687.6" r="3.2"/><circle cx="715" cy="690" r="3.2"/><circle cx="711" cy="693.6" r="3.2"/><circle cx="722" cy="696" r="3.2"/><circle cx="714" cy="698.4" r="3.2"/><circle cx="720" cy="700.8" r="3.2"/><circle cx="716" cy="702" r="3.2"/><circle cx="712" cy="704.4" r="3.2"/><circle cx="723" cy="705.6" r="3.2"/><circle cx="718" cy="708" r="3.2"/><circle cx="711" cy="710.4" r="3.2"/><circle cx="722" cy="714" r="3.2"/><circle cx="714" cy="716.4" r="3.2"/><circle cx="719" cy="720" r="3.2"/><circle cx="713" cy="722.4" r="3.2"/><circle cx="721" cy="717.6" r="3.2"/><circle cx="710" cy="712.8" r="3.2"/><circle cx="724" cy="699.6" r="3.2"/><circle cx="716" cy="696" r="3.2"/>
</g>
<path d="M717,694.8 V716.4 M713,694.8 H721 M713,716.4 H721" stroke="#000" stroke-width="0.9"/>
<g fill="#e82828" opacity="0.9">
<rect x="726" y="763" width="6" height="6"/><rect x="731" y="765" width="6" height="6"/><rect x="735" y="767" width="6" height="6"/><rect x="728" y="769" width="6" height="6"/><rect x="733" y="771" width="6" height="6"/><rect x="737" y="773" width="6" height="6"/><rect x="725" y="775" width="6" height="6"/><rect x="730" y="777" width="6" height="6"/><rect x="734" y="779" width="6" height="6"/><rect x="727" y="781" width="6" height="6"/><rect x="732" y="783" width="6" height="6"/><rect x="736" y="785" width="6" height="6"/><rect x="729" y="787" width="6" height="6"/><rect x="733" y="789" width="6" height="6"/><rect x="731" y="759" width="6" height="6"/><rect x="727" y="772" width="6" height="6"/><rect x="735" y="776" width="6" height="6"/><rect x="733" y="744.6" width="6" height="6"/>
</g>
<path d="M734,768 V782 M730,768 H738 M730,782 H738" stroke="#000" stroke-width="0.9"/>
<g fill="#1a2adf" opacity="0.9">
<polygon points="741.5,734 748.5,734 745,740"/><polygon points="746.5,736 753.5,736 750,742"/><polygon points="750.5,738 757.5,738 754,744"/><polygon points="743.5,741 750.5,741 747,747"/><polygon points="748.5,743 755.5,743 752,749"/><polygon points="740.5,746 747.5,746 744,752"/><polygon points="745.5,748 752.5,748 749,754"/><polygon points="751.5,750 758.5,750 755,756"/><polygon points="742.5,753 749.5,753 746,759"/><polygon points="747.5,755 754.5,755 751,761"/><polygon points="744.5,758 751.5,758 748,764"/><polygon points="749.5,760 756.5,760 753,766"/><polygon points="746.5,764 753.5,764 750,770"/><polygon points="741.5,739 748.5,739 745,745"/><polygon points="751.5,742 758.5,742 755,748"/>
</g>
<path d="M750,744 V756 M746,744 H754 M746,756 H754" stroke="#000" stroke-width="0.9"/>
<path d="M713,685 V682 H733 V685 M737,685 V682 H757 V685" fill="none" stroke="#000" stroke-width="0.8"/>
<text x="723" y="683" font-size="9" text-anchor="middle">****</text>
<text x="747" y="683" font-size="9" text-anchor="middle">****</text>
<text x="733" y="833" font-size="13" text-anchor="middle">OHCs</text>
<text transform="translate(659,735) rotate(-90)" font-size="12.5" text-anchor="middle">ΔF<tspan dy="3" font-size="8">120–0</tspan><tspan dy="-3"> / F</tspan><tspan dy="3" font-size="8">0</tspan></text>
</svg>
</body></html>
